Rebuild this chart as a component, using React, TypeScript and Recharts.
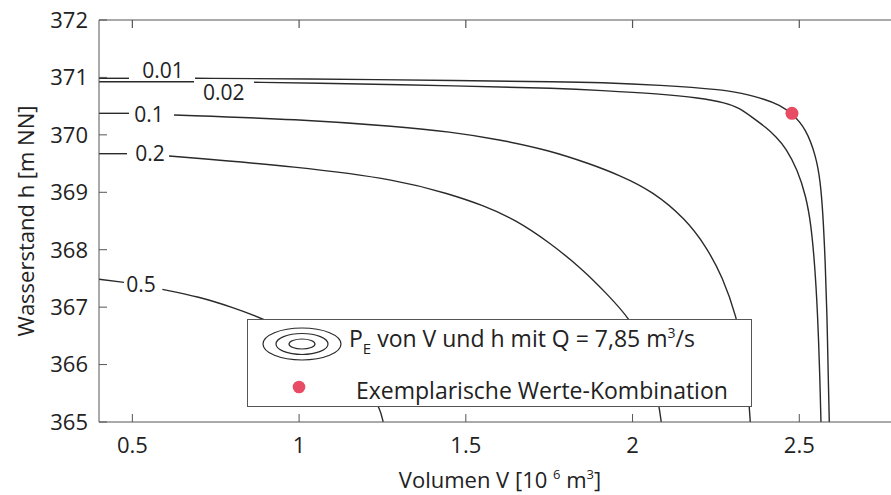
import {
  ComposedChart,
  Line,
  Scatter,
  XAxis,
  YAxis,
  ReferenceDot,
  Legend,
  Label,
} from "recharts";

const FONT = "'Open Sans', 'DejaVu Sans', sans-serif";
const INK = "#2a2a2a";
const AXIS = "#555";
const RED = "#e84c64";

// chart box
const W = 891;
const H = 495;
const PLOT_LEFT = 99;
const PLOT_TOP = 20;

// x ticks / y ticks
const vTicks = [0.5, 1, 1.5, 2, 2.5];
const hTicks = [365, 366, 367, 368, 369, 370, 371, 372];
const vDomain = [0.4, 2.775];
const hDomain = [365, 372];

// contour lines of P_E, [V, h]; split where the inline label sits
const pe001Left = [[0.4, 370.985], [0.49, 370.985]];
const pe001Right = [
  [0.688, 370.985], [1.0, 370.978], [1.5, 370.943], [1.78, 370.925], [1.9, 370.912],
  [2.08, 370.868], [2.28, 370.781], [2.32, 370.733], [2.4, 370.617], [2.44, 370.52],
  [2.478, 370.375], [2.52, 370.11], [2.55, 369.63], [2.563, 369.2], [2.571, 368.63],
  [2.578, 367.763], [2.583, 366.893], [2.587, 365.731], [2.59, 365.0],
];
const pe002Left = [[0.4, 370.925], [0.685, 370.925]];
const pe002Right = [
  [0.865, 370.915], [1.0, 370.908], [1.5, 370.851], [1.78, 370.81], [1.9, 370.775],
  [2.08, 370.715], [2.2, 370.645], [2.28, 370.555], [2.32, 370.47], [2.36, 370.3],
  [2.4, 370.13], [2.43, 369.97], [2.46, 369.771], [2.495, 369.388], [2.52, 368.93],
  [2.535, 368.45], [2.546, 367.769], [2.555, 366.898], [2.562, 365.731], [2.565, 365.0],
];
const pe01Left = [[0.4, 370.375], [0.49, 370.375]];
const pe01Right = [
  [0.625, 370.346], [1.0, 370.271], [1.3, 370.142], [1.45, 370.055], [1.6, 369.92],
  [1.75, 369.73], [1.87, 369.5], [1.96, 369.3], [2.06, 369.02], [2.16, 368.53],
  [2.22, 368.06], [2.27, 367.53], [2.313, 366.806], [2.332, 366.254], [2.344, 365.731],
  [2.35, 365.26], [2.353, 365.0],
];
const pe02Left = [[0.4, 369.672], [0.484, 369.672]];
const pe02Right = [
  [0.61, 369.632], [1.0, 369.445], [1.3, 369.214], [1.45, 368.97], [1.55, 368.778],
  [1.65, 368.52], [1.75, 368.13], [1.85, 367.66], [1.92, 367.25], [1.995, 366.78],
  [2.035, 366.3], [2.065, 365.7], [2.08, 365.261], [2.086, 365.0],
];
const pe05Left = [[0.4, 367.485], [0.475, 367.432]];
const pe05Right = [
  [0.59, 367.31], [0.7, 367.181], [0.8, 366.997], [0.89, 366.806], [1.0, 366.5],
  [1.12, 366.0], [1.21, 365.522], [1.243, 365.243], [1.252, 365.0],
];

const contourSegments = [
  pe001Left, pe001Right, pe002Left, pe002Right, pe01Left, pe01Right,
  pe02Left, pe02Right, pe05Left, pe05Right,
];

// inline contour labels
const contourLabels = ["0.01", "0.02", "0.1", "0.2", "0.5"];
const contourLabelAt = [
  [0.592, 371.117], [0.774, 370.738], [0.55, 370.355], [0.553, 369.667], [0.526, 367.4],
];

// example combination
const example = [{ v: 2.478, h: 370.375 }];

const toPts = (arr: number[][]) => arr.map(([v, h]) => ({ v, h }));

// top frame of the box, drawn over the chart (same inward tick style as the axes)
function TopFrame() {
  const plotW = W - PLOT_LEFT;
  const px = (v: number) =>
    PLOT_LEFT + ((v - vDomain[0]) / (vDomain[1] - vDomain[0])) * plotW;
  return (
    <svg
      width={W}
      height={40}
      style={{ position: "absolute", left: 0, top: 0, pointerEvents: "none", zIndex: 5 }}
    >
      <line x1={PLOT_LEFT} y1={PLOT_TOP} x2={W} y2={PLOT_TOP} stroke={AXIS} strokeWidth={1.2} />
      {vTicks.map((t) => (
        <line
          key={t}
          x1={px(t)}
          y1={PLOT_TOP}
          x2={px(t)}
          y2={PLOT_TOP + 8}
          stroke={AXIS}
          strokeWidth={1.2}
        />
      ))}
    </svg>
  );
}

function LegendBox() {
  return (
    <div
      style={{
        width: 505,
        height: 88,
        boxSizing: "border-box",
        border: `1.3px solid ${AXIS}`,
        background: "#fff",
      }}
    >
      <svg width={503} height={86} style={{ display: "block" }}>
        <g fill="none" stroke={INK} strokeWidth={1.2}>
          <ellipse cx={54} cy={24} rx={39} ry={16} />
          <ellipse cx={54} cy={24} rx={26} ry={10.5} />
          <ellipse cx={54} cy={24} rx={13} ry={5} />
        </g>
        <text x={101} y={27} fontFamily={FONT} fontSize={23} fill="#222">
          <tspan>P</tspan>
          <tspan dy={7} fontSize={15}>E</tspan>
          <tspan dy={-7}> von V und h mit Q = 7,85 m</tspan>
          <tspan dy={-9} fontSize={14}>3</tspan>
          <tspan dy={9}>/s</tspan>
        </text>
        <circle cx={51} cy={67} r={6.3} fill={RED} />
        <text x={108} y={79} fontFamily={FONT} fontSize={23} fill="#222">
          Exemplarische Werte-Kombination
        </text>
      </svg>
    </div>
  );
}

function XTitle({ viewBox }: any) {
  const x = viewBox.x + viewBox.width / 2 + 5;
  const y = viewBox.y + 66;
  return (
    <text x={x} y={y} textAnchor="middle" fontFamily={FONT} fontSize={22} fill="#222">
      <tspan>Volumen V [10 </tspan>
      <tspan dy={-9} fontSize={13}>6</tspan>
      <tspan dy={9}> m</tspan>
      <tspan dy={-9} fontSize={13}>3</tspan>
      <tspan dy={9}>]</tspan>
    </text>
  );
}

function YTitle({ viewBox }: any) {
  const cx = viewBox.x + 25;
  const cy = viewBox.y + viewBox.height / 2;
  return (
    <text
      x={cx}
      y={cy}
      transform={`rotate(-90, ${cx}, ${cy})`}
      textAnchor="middle"
      dominantBaseline="central"
      fontFamily={FONT}
      fontSize={22}
      fill="#222"
    >
      Wasserstand h [m NN]
    </text>
  );
}

export default function App() {
  const tickStyle = { fontSize: 22, fill: "#222", fontFamily: FONT };
  return (
    <div
      style={{ position: "absolute", left: 0, top: 0, width: W, height: H, background: "#fff" }}
    >
      <ComposedChart
        width={W}
        height={H}
        margin={{ top: PLOT_TOP, right: 0, bottom: 0, left: 0 }}
      >
        <XAxis
          type="number"
          dataKey="v"
          domain={vDomain}
          allowDataOverflow
          ticks={vTicks}
          tickFormatter={(t) => String(t)}
          height={73}
          tickSize={-8}
          tickMargin={23}
          stroke={AXIS}
          tick={tickStyle}
        >
          <Label content={XTitle} />
        </XAxis>
        <YAxis
          type="number"
          dataKey="h"
          domain={hDomain}
          allowDataOverflow
          ticks={hTicks}
          width={PLOT_LEFT}
          tickSize={-8}
          tickMargin={19}
          stroke={AXIS}
          tick={tickStyle}
        >
          <Label content={YTitle} />
        </YAxis>
        {contourSegments.map((seg, i) => (
          <Line
            key={i}
            data={toPts(seg)}
            dataKey="h"
            type="basis"
            stroke={INK}
            strokeWidth={1.4}
            dot={false}
            activeDot={false}
            isAnimationActive={false}
          />
        ))}
        {contourLabels.map((lab, i) => (
          <ReferenceDot
            key={lab}
            x={contourLabelAt[i][0]}
            y={contourLabelAt[i][1]}
            r={0}
            fill="none"
            stroke="none"
            label={{
              value: lab,
              position: "center",
              fontSize: 21,
              fill: "#222",
              fontFamily: FONT,
            }}
          />
        ))}
        <Scatter
          data={example}
          dataKey="h"
          fill={RED}
          isAnimationActive={false}
          shape={(p: any) => <circle cx={p.cx} cy={p.cy} r={6.5} fill={RED} />}
        />
        <Legend
          layout="vertical"
          align="center"
          verticalAlign="middle"
          wrapperStyle={{ left: 247, top: 319, width: 505, height: 88 }}
          content={() => <LegendBox />}
        />
      </ComposedChart>
      <TopFrame />
    </div>
  );
}
